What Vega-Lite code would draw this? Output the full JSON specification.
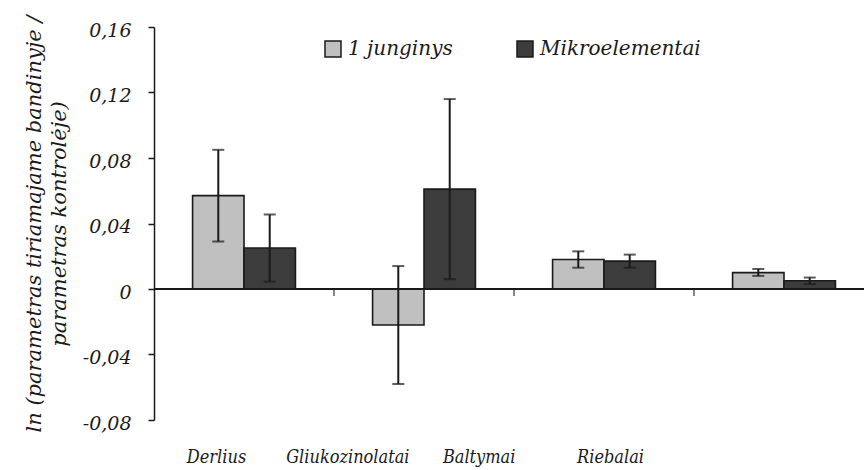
{
  "$schema": "https://vega.github.io/schema/vega-lite/v6.json",
  "width": 710,
  "height": 393,
  "autosize": {"type": "none"},
  "padding": {"left": 154, "top": 27, "right": 0, "bottom": 50},
  "background": "white",
  "config": {
    "view": {"stroke": null},
    "font": "DejaVu Serif"
  },
  "data": {
    "values": [
      {"cat": "Derlius", "grp": "1 junginys", "v": 0.057, "lo": 0.029, "hi": 0.085},
      {"cat": "Derlius", "grp": "Mikroelementai", "v": 0.025, "lo": 0.0045, "hi": 0.0455},
      {"cat": "Gliukozinolatai", "grp": "1 junginys", "v": -0.022, "lo": -0.058, "hi": 0.014},
      {"cat": "Gliukozinolatai", "grp": "Mikroelementai", "v": 0.061, "lo": 0.006, "hi": 0.116},
      {"cat": "Baltymai", "grp": "1 junginys", "v": 0.018, "lo": 0.013, "hi": 0.023},
      {"cat": "Baltymai", "grp": "Mikroelementai", "v": 0.017, "lo": 0.013, "hi": 0.021},
      {"cat": "Riebalai", "grp": "1 junginys", "v": 0.010, "lo": 0.008, "hi": 0.0122},
      {"cat": "Riebalai", "grp": "Mikroelementai", "v": 0.005, "lo": 0.003, "hi": 0.007}
    ]
  },
  "resolve": {"scale": {"x": "independent"}},
  "layer": [
    {
      "layer": [
        {
          "mark": {"type": "bar", "stroke": "#1a1a1a", "strokeWidth": 1.6},
          "encoding": {
            "x": {
              "field": "cat", "type": "nominal", "sort": null,
              "scale": {"paddingInner": 0, "paddingOuter": 0, "range": [0, 720]},
              "axis": null
            },
            "xOffset": {"field": "grp", "type": "nominal", "scale": {"paddingInner": 0, "paddingOuter": 0.75}},
            "y": {
              "field": "v", "type": "quantitative",
              "scale": {"domain": [-0.08, 0.16], "nice": false, "zero": false},
              "axis": {
                "values": [-0.08, -0.04, 0, 0.04, 0.08, 0.12, 0.16],
                "labelExpr": "datum.value == 0 ? '0' : (datum.value < 0 ? '-' : '') + replace(format(abs(datum.value), '.2f'), '.', ',')",
                "grid": false, "domainColor": "#1a1a1a", "domainWidth": 1.5,
                "tickColor": "#1a1a1a", "tickSize": 6, "tickWidth": 1.5,
                "labelFont": "DejaVu Serif", "labelFontStyle": "italic", "labelFontSize": 19,
                "labelColor": "#1a1a1a", "labelPadding": 17, "labelOffset": 3,
                "title": ["ln (parametras tiriamajame bandinyje /", "parametras kontrolėje)"],
                "titleFont": "DejaVu Serif", "titleFontStyle": "italic", "titleFontWeight": "normal",
                "titleFontSize": 21, "titleLineHeight": 25, "titleColor": "#1a1a1a", "titlePadding": 13
              }
            },
            "color": {
              "field": "grp", "type": "nominal",
              "scale": {"domain": ["1 junginys", "Mikroelementai"], "range": ["#c0c0c0", "#3c3c3c"]},
              "legend": {
                "title": null, "orient": "none", "direction": "horizontal",
                "legendX": 169, "legendY": 12,
                "symbolType": "square", "symbolSize": 256, "symbolStrokeColor": "#1a1a1a", "symbolStrokeWidth": 1.5,
                "labelFont": "DejaVu Serif", "labelFontStyle": "italic", "labelFontSize": 20, "labelLimit": 400,
                "labelColor": "#1a1a1a", "labelOffset": 5, "columnPadding": 61
              }
            }
          }
        },
        {
          "mark": {"type": "rule", "color": "#1a1a1a", "strokeWidth": 1.5},
          "encoding": {"y": {"datum": 0}}
        },
        {
          "mark": {"type": "rule", "color": "#1a1a1a", "strokeWidth": 2},
          "encoding": {
            "x": {"field": "cat", "type": "nominal", "sort": null},
            "xOffset": {"field": "grp", "type": "nominal"},
            "y": {"field": "lo", "type": "quantitative"},
            "y2": {"field": "hi"}
          }
        },
        {
          "mark": {"type": "tick", "color": "#1a1a1a", "thickness": 2, "size": 12, "orient": "horizontal"},
          "encoding": {
            "x": {"field": "cat", "type": "nominal", "sort": null},
            "xOffset": {"field": "grp", "type": "nominal"},
            "y": {"field": "lo", "type": "quantitative"}
          }
        },
        {
          "mark": {"type": "tick", "color": "#1a1a1a", "thickness": 2, "size": 12, "orient": "horizontal"},
          "encoding": {
            "x": {"field": "cat", "type": "nominal", "sort": null},
            "xOffset": {"field": "grp", "type": "nominal"},
            "y": {"field": "hi", "type": "quantitative"}
          }
        },
        {
          "transform": [{"filter": "datum.grp == '1 junginys' && datum.cat != 'Derlius'"}],
          "mark": {"type": "tick", "color": "#1a1a1a", "thickness": 1.5, "size": 7, "orient": "vertical", "yOffset": 3.5},
          "encoding": {
            "x": {"field": "cat", "type": "nominal", "sort": null, "bandPosition": 0},
            "y": {"datum": 0}
          }
        }
      ]
    },
    {
      "transform": [{"filter": "datum.grp == '1 junginys'"}],
      "mark": {"type": "point", "opacity": 0},
      "encoding": {
        "x": {
          "field": "cat", "type": "nominal", "sort": null,
          "scale": {"type": "point", "padding": 0, "range": [62, 456]},
          "axis": {
            "orient": "bottom",
            "title": null, "domain": false, "ticks": false, "labelAngle": 0,
            "labelFont": "DejaVu Serif Condensed", "labelFontStyle": "italic", "labelFontSize": 18,
            "labelColor": "#1a1a1a", "labelPadding": 28
          }
        },
        "y": {"datum": 0}
      }
    }
  ]
}
